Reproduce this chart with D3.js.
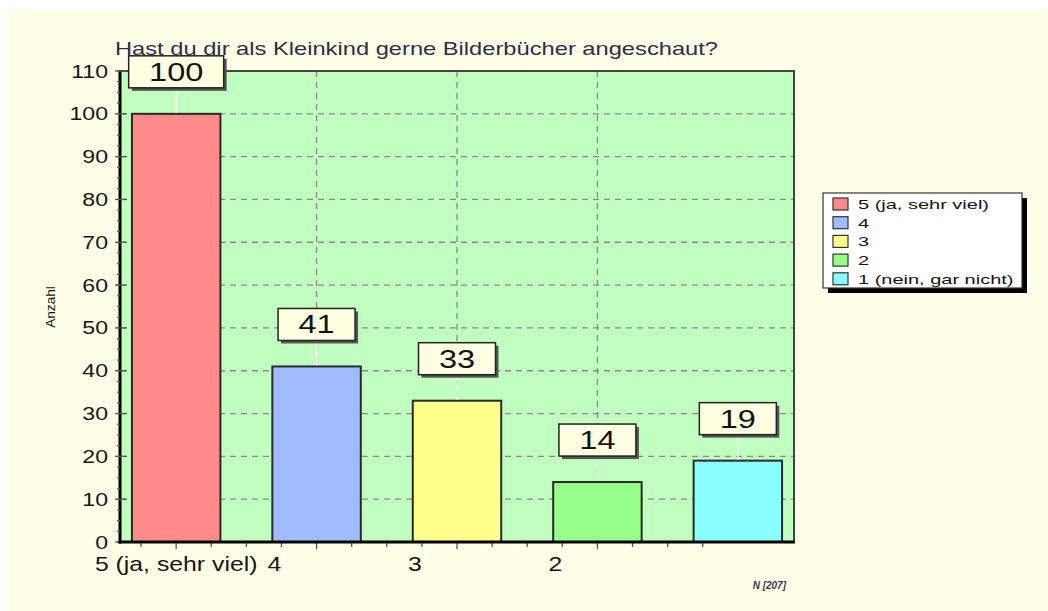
<!DOCTYPE html>
<html lang="de">
<head>
<meta charset="utf-8">
<script src="https://cdn.jsdelivr.net/npm/d3@7"></script>
<style>
  body { margin: 0; background: #ffffff; }
  svg { display: block; }
  text { font-family: "Liberation Sans", Arial, sans-serif; }
</style>
</head>
<body>
<svg id="chart" width="1048" height="611"></svg>
<script>
  // data
  var categories = ["5 (ja, sehr viel)", "4", "3", "2", "1 (nein, gar nicht)"];
  var counts = [100, 41, 33, 14, 19];
  var colors = ["#ff8a8a", "#a0bcff", "#ffff8a", "#96ff8a", "#8affff"];
  var yTicks = [0, 10, 20, 30, 40, 50, 60, 70, 80, 90, 100, 110];
  var title = "Hast du dir als Kleinkind gerne Bilderbücher angeschaut?";
  var sampleNote = "N [207]";

  var svg = d3.select("#chart");

  var plot = {left: 120, right: 794, top: 71, bottom: 542};

  // cream page panel
  svg.append("rect")
    .attr("x", 8).attr("y", 11)
    .attr("width", 1040).attr("height", 600)
    .attr("fill", "#fffee6");

  var x = d3.scaleLinear()
    .domain([-0.4, categories.length - 0.6])
    .range([plot.left, plot.right]);

  var y = d3.scaleLinear()
    .domain([0, 110])
    .range([plot.bottom, plot.top]);

  // plot background
  svg.append("rect")
    .attr("x", plot.left).attr("y", plot.top)
    .attr("width", plot.right - plot.left)
    .attr("height", plot.bottom - plot.top)
    .attr("fill", "#c0ffc0");

  // horizontal grid
  svg.append("g").selectAll("line")
    .data(yTicks.filter(function(d) { return d > 0 && d < 110; }))
    .enter().append("line")
    .attr("x1", plot.left).attr("x2", plot.right)
    .attr("y1", function(d) { return y(d); })
    .attr("y2", function(d) { return y(d); })
    .attr("stroke", "#8a8a8a").attr("stroke-width", 1.3)
    .attr("stroke-dasharray", "6,5");

  // vertical grid through middle bars
  svg.append("g").selectAll("line")
    .data([1, 2, 3])
    .enter().append("line")
    .attr("x1", function(d) { return x(d); })
    .attr("x2", function(d) { return x(d); })
    .attr("y1", plot.top).attr("y2", plot.bottom)
    .attr("stroke", "#8a8a8a").attr("stroke-width", 1.3)
    .attr("stroke-dasharray", "6,5");

  // bars
  var barW = 0.63;
  svg.append("g").selectAll("rect")
    .data(counts)
    .enter().append("rect")
    .attr("x", function(d, i) { return x(i - barW / 2); })
    .attr("y", function(d) { return y(d); })
    .attr("width", function(d, i) { return x(i + barW / 2) - x(i - barW / 2); })
    .attr("height", function(d) { return y(0) - y(d); })
    .attr("fill", function(d, i) { return colors[i]; })
    .attr("stroke", "#2a2a2a").attr("stroke-width", 2);

  // frame top / right
  svg.append("path")
    .attr("d", "M" + plot.left + "," + plot.top + "H" + plot.right + "V" + plot.bottom)
    .attr("fill", "none").attr("stroke", "#444").attr("stroke-width", 2);

  // y axis
  var yAxis = svg.append("g");
  yAxis.append("line")
    .attr("x1", plot.left).attr("x2", plot.left)
    .attr("y1", plot.top).attr("y2", plot.bottom + 1.5)
    .attr("stroke", "#000").attr("stroke-width", 3);
  yAxis.selectAll(".minor")
    .data(d3.range(0, 110.1, 2.5))
    .enter().append("line")
    .attr("x1", plot.left - 3).attr("x2", plot.left)
    .attr("y1", function(d) { return y(d); })
    .attr("y2", function(d) { return y(d); })
    .attr("stroke", "#555").attr("stroke-width", 1.2);
  yAxis.selectAll(".major")
    .data(yTicks)
    .enter().append("line")
    .attr("x1", plot.left - 5).attr("x2", plot.left + 7)
    .attr("y1", function(d) { return y(d); })
    .attr("y2", function(d) { return y(d); })
    .attr("stroke", "#555").attr("stroke-width", 1.3);
  yAxis.selectAll("text")
    .data(yTicks)
    .enter().append("text")
    .attr("transform", function(d) { return "translate(108," + (y(d) + 6.5) + ") scale(1.25,1)"; })
    .attr("text-anchor", "end")
    .attr("font-size", 18.5)
    .attr("fill", "#151515")
    .text(function(d) { return d; });

  svg.append("text")
    .attr("transform", "translate(55,307) rotate(-90) scale(1.05,1)")
    .attr("text-anchor", "middle")
    .attr("font-size", 13)
    .attr("fill", "#111")
    .text("Anzahl");

  // x axis
  var xAxis = svg.append("g");
  xAxis.selectAll(".tick")
    .data(d3.range(-0.25, 3.76, 0.25))
    .enter().append("line")
    .attr("x1", function(d) { return x(d); })
    .attr("x2", function(d) { return x(d); })
    .attr("y1", plot.bottom)
    .attr("y2", function(d) { return plot.bottom + (Number.isInteger(d) ? 7 : 5); })
    .attr("stroke", "#555").attr("stroke-width", 1.3);
  xAxis.append("line")
    .attr("x1", plot.left - 1.5).attr("x2", plot.right + 1)
    .attr("y1", plot.bottom).attr("y2", plot.bottom)
    .attr("stroke", "#000").attr("stroke-width", 3);
  // category labels as the source software placed them (last one dropped)
  xAxis.selectAll("text")
    .data(categories.slice(0, 4))
    .enter().append("text")
    .attr("transform", function(d, i) {
      var pos = i === 0 ? 0 : i - 0.3;
      return "translate(" + x(pos) + ",571) scale(1.24,1)";
    })
    .attr("text-anchor", "middle")
    .attr("font-size", 20)
    .attr("fill", "#151515")
    .text(function(d) { return d; });

  // value labels
  var labels = svg.append("g");
  counts.forEach(function(d, i) {
    var cx = x(i);
    var w = String(d).length === 3 ? 95 : 77;
    var boxBottom = y(d) - 26;
    var boxTop = boxBottom - 32;
    labels.append("line")
      .attr("x1", cx).attr("x2", cx)
      .attr("y1", boxBottom).attr("y2", y(d) - 1)
      .attr("stroke", "#ffffff").attr("stroke-width", 1.3);
    labels.append("rect")
      .attr("x", cx - w / 2 + 3).attr("y", boxTop + 3)
      .attr("width", w).attr("height", 32)
      .attr("fill", "#555");
    labels.append("rect")
      .attr("x", cx - w / 2).attr("y", boxTop)
      .attr("width", w).attr("height", 32)
      .attr("fill", "#ffffe2")
      .attr("stroke", "#222").attr("stroke-width", 1.5);
    labels.append("text")
      .attr("transform", "translate(" + cx + "," + (boxTop + 25) + ") scale(1.3,1)")
      .attr("text-anchor", "middle")
      .attr("font-size", 25)
      .attr("fill", "#111")
      .text(d);
  });

  // title
  svg.append("text")
    .attr("x", 115).attr("y", 55)
    .attr("font-family", "'Open Sans', sans-serif")
    .attr("font-size", 19)
    .attr("fill", "#2c2f4a")
    .attr("textLength", 603)
    .attr("lengthAdjust", "spacingAndGlyphs")
    .text(title);

  // legend
  var lg = svg.append("g").attr("transform", "translate(823,193)");
  lg.append("rect")
    .attr("x", 5).attr("y", 5).attr("width", 199).attr("height", 95)
    .attr("fill", "#000");
  lg.append("rect")
    .attr("x", 0).attr("y", 0).attr("width", 199).attr("height", 95)
    .attr("fill", "#ffffff").attr("stroke", "#333").attr("stroke-width", 1.2);
  var rows = lg.selectAll(".row")
    .data(categories)
    .enter().append("g")
    .attr("transform", function(d, i) { return "translate(10," + (11 + i * 18.7) + ")"; });
  rows.append("rect")
    .attr("x", 0).attr("y", -6).attr("width", 15).attr("height", 12)
    .attr("fill", function(d, i) { return colors[i]; })
    .attr("stroke", "#333").attr("stroke-width", 1.2);
  rows.append("text")
    .attr("transform", "translate(25,5) scale(1.48,1)")
    .attr("font-size", 13.5)
    .attr("fill", "#111")
    .text(function(d) { return d; });

  // sample size note
  svg.append("text")
    .attr("x", 786).attr("y", 589)
    .attr("text-anchor", "end")
    .attr("font-size", 10)
    .attr("font-style", "italic")
    .attr("font-weight", "bold")
    .attr("fill", "#3a3a55")
    .text(sampleNote);
</script>
</body>
</html>
